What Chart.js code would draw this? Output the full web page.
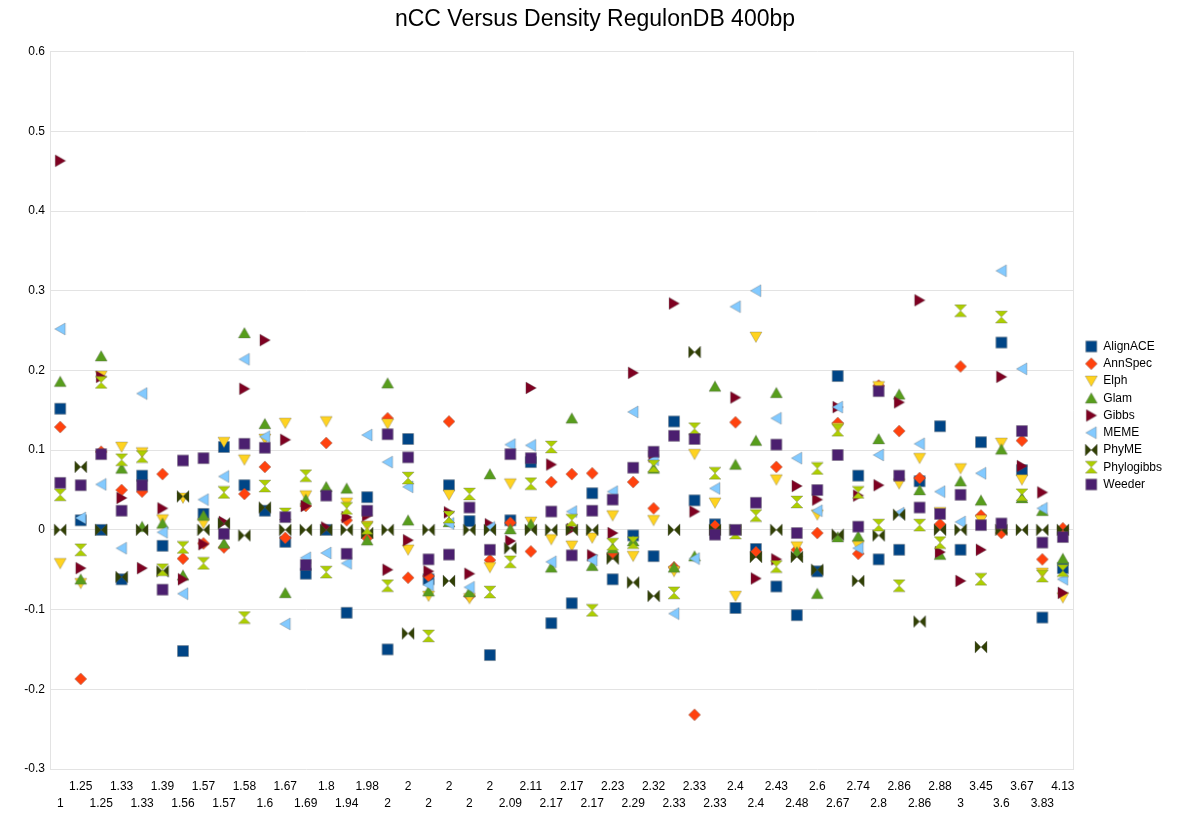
<!DOCTYPE html>
<html>
<head>
<meta charset="utf-8">
<script src="https://cdn.jsdelivr.net/npm/chart.js@4.4.1/dist/chart.umd.min.js"></script>
<style>
  html, body { margin: 0; background: #fff; }
  #wrap { width: 1200px; height: 819px; }
</style>
</head>
<body>
<div id="wrap"><canvas id="chart"></canvas></div>
<script>
// density categories (x axis, in file order)
const densities = ['1','1.25','1.25','1.33','1.33','1.39','1.56','1.57','1.57','1.58',
  '1.6','1.67','1.69','1.8','1.94','1.98','2','2','2','2',
  '2','2','2.09','2.11','2.17','2.17','2.17','2.23','2.29','2.32',
  '2.33','2.33','2.33','2.4','2.4','2.43','2.48','2.6','2.67','2.74',
  '2.8','2.86','2.86','2.88','3','3.45','3.6','3.67','3.83','4.13'];

// nCC per tool
const alignACE = [0.152,0.012,0,-0.062,0.068,-0.02,-0.152,0.02,0.104,0.056,0.024,-0.015,-0.055,0,-0.104,0.041,-0.15,0.114,-0.062,0.056,0.011,-0.157,0.012,0.085,-0.117,-0.092,0.046,-0.062,-0.007,-0.033,0.136,0.037,0.007,-0.098,-0.024,-0.071,-0.107,-0.052,0.193,0.068,-0.037,-0.025,0.061,0.13,-0.025,0.11,0.235,0.075,-0.11,-0.048];
const annSpec = [0.129,-0.187,0.098,0.05,0.048,0.07,-0.036,-0.017,-0.022,0.045,0.079,-0.01,0.03,0.109,0.012,-0.01,0.14,-0.06,-0.058,0.136,-0.083,-0.038,0.009,-0.027,0.06,0.07,0.071,-0.03,0.06,0.027,-0.047,-0.232,0.005,0.135,-0.028,0.079,-0.025,-0.004,0.134,-0.03,0.181,0.124,0.065,0.007,0.205,0.018,-0.004,0.112,-0.037,0.002];
const elph = [-0.042,-0.067,0.193,0.104,0.097,0.013,0.04,0.008,0.11,0.088,0.114,0.134,0.043,0.136,0.034,0.005,0.133,-0.025,-0.083,0.044,-0.086,-0.047,0.058,0.01,-0.012,-0.02,-0.01,0.018,-0.033,0.012,-0.052,0.095,0.034,-0.083,0.242,0.063,-0.021,0.019,0.128,-0.02,0.18,0.058,0.09,0.022,0.077,0.012,0.109,0.063,-0.054,-0.085];
const glam = [0.186,-0.062,0.218,0.077,0.004,0.008,-0.057,0.018,-0.017,0.247,0.133,-0.079,0.038,0.054,0.052,-0.013,0.184,0.012,-0.077,0.01,-0.078,0.07,0.001,0.007,-0.047,0.14,-0.045,-0.023,-0.014,0.077,-0.047,-0.033,0.18,0.082,0.112,0.172,-0.028,-0.08,-0.009,-0.008,0.114,0.17,0.05,-0.031,0.061,0.037,0.101,0.04,0.024,-0.036];
const gibbs = [0.463,-0.048,0.192,0.04,-0.048,0.027,-0.062,-0.018,0.01,0.177,0.238,0.113,0.03,0.003,0.016,0.018,-0.05,-0.013,-0.052,0.022,-0.055,0.007,-0.014,0.178,0.082,0.001,-0.032,-0.004,0.197,0.092,0.284,0.023,-0.003,0.166,-0.061,-0.037,0.055,0.038,0.154,0.043,0.056,0.16,0.288,-0.028,-0.064,-0.025,0.192,0.08,0.047,-0.079];
const meme = [0.252,0.015,0.057,-0.023,0.171,-0.003,-0.08,0.038,0.067,0.214,0.117,-0.118,-0.035,-0.029,-0.042,0.119,0.085,0.054,-0.069,0.008,-0.072,0.003,0.107,0.106,-0.04,0.023,-0.038,0.048,0.148,0.088,-0.105,-0.036,0.052,0.28,0.3,0.14,0.09,0.024,0.154,-0.023,0.094,0.021,0.108,0.048,0.01,0.071,0.325,0.202,0.027,-0.062];
const phyME = [0,0.079,0,-0.059,0,-0.052,0.042,0,0.008,-0.007,0.028,0,0,0,0,-0.004,0,-0.13,0,-0.064,0,0,-0.023,0,0,0,0,-0.036,-0.066,-0.083,0,0.223,0,0,-0.034,0,-0.034,-0.05,-0.006,-0.064,-0.007,0.019,-0.115,0,0,-0.147,0,0,0,0];
const phylogibbs = [0.044,-0.025,0.185,0.088,0.092,-0.05,-0.022,-0.042,0.047,-0.11,0.055,0.02,0.068,-0.053,0.027,0.002,-0.07,0.065,-0.133,0.016,0.045,-0.078,-0.04,0.058,0.104,0.012,-0.101,-0.018,-0.016,0.08,-0.079,0.127,0.071,-0.004,0.018,-0.046,0.035,0.077,0.125,0.047,0.006,-0.07,0.006,-0.016,0.275,-0.062,0.267,0.044,-0.058,-0.051];
const weeder = [0.059,0.056,0.095,0.024,0.056,-0.075,0.087,0.09,-0.005,0.108,0.103,0.016,-0.044,0.043,-0.03,0.024,0.12,0.091,-0.037,-0.031,0.028,-0.025,0.095,0.09,0.023,-0.032,0.024,0.038,0.078,0.098,0.118,0.114,-0.006,0,0.034,0.107,-0.004,0.05,0.094,0.004,0.174,0.068,0.028,0.02,0.044,0.006,0.008,0.124,-0.016,-0.009];

const yTicks = [-0.3, -0.2, -0.1, 0, 0.1, 0.2, 0.3, 0.4, 0.5, 0.6];

const FONT = '"Liberation Sans", Arial, sans-serif';

// little canvas symbols, like the office-suite markers
function marker(kind, color) {
  const c = document.createElement('canvas');
  c.width = 14; c.height = 14;
  const g = c.getContext('2d');
  g.fillStyle = color;
  g.strokeStyle = 'rgba(90,90,90,0.4)';
  g.lineWidth = 0.8;
  const shapes = {
    square: [[[1.5,1.5],[12.5,1.5],[12.5,12.5],[1.5,12.5]]],
    diamond: [[[7,1],[13,7],[7,13],[1,7]]],
    down: [[[1,2],[13,2],[7,12.5]]],
    up: [[[7,1.5],[13,12],[1,12]]],
    right: [[[2,1],[12.5,7],[2,13]]],
    left: [[[12,1],[1.5,7],[12,13]]],
    bowtie: [[[1,1],[7,7],[1,13]], [[13,1],[7,7],[13,13]]],
    hourglass: [[[1,1],[13,1],[7,7]], [[7,7],[13,13],[1,13]]]
  };
  shapes[kind].forEach(poly => {
    g.beginPath();
    poly.forEach(([x, y], i) => i ? g.lineTo(x, y) : g.moveTo(x, y));
    g.closePath();
    g.fill();
    g.stroke();
  });
  return c;
}

const series = [
  ['AlignACE', alignACE, '#004586', 'square'],
  ['AnnSpec', annSpec, '#ff420e', 'diamond'],
  ['Elph', elph, '#ffd320', 'down'],
  ['Glam', glam, '#579d1c', 'up'],
  ['Gibbs', gibbs, '#7e0021', 'right'],
  ['MEME', meme, '#83caff', 'left'],
  ['PhyME', phyME, '#314004', 'bowtie'],
  ['Phylogibbs', phylogibbs, '#aecf00', 'hourglass'],
  ['Weeder', weeder, '#4b1f6f', 'square']
];

const datasets = series.map(([name, values, color, kind], i) => {
  const img = marker(kind, color);
  return {
    label: name,
    data: values,
    showLine: false,
    pointStyle: img,
    pointRadius: 6,
    pointHoverRadius: 6,
    backgroundColor: color,
    borderColor: color,
    order: series.length - i   // later series drawn on top
  };
});

const baseLabels = Chart.defaults.plugins.legend.labels.generateLabels;

new Chart(document.getElementById('chart'), {
  type: 'line',
  data: { labels: densities, datasets: datasets },
  options: {
    responsive: true,
    maintainAspectRatio: false,
    animation: false,
    layout: { padding: { left: 0, right: 10, top: 0, bottom: 0 } },
    plugins: {
      title: {
        display: true,
        text: 'nCC Versus Density RegulonDB 400bp',
        color: '#000',
        font: { family: FONT, size: 23, weight: 'normal' },
        padding: { top: 6, bottom: 18 }
      },
      legend: {
        position: 'right',
        title: { display: true, text: ' ', font: { size: 6 }, padding: 2.4 },
        labels: {
          usePointStyle: true,
          color: '#000',
          font: { family: FONT, size: 12 },
          padding: 5.25,
          // trailing space keeps the legend column as wide as the original
          generateLabels: chart => baseLabels(chart).map(it => Object.assign(it, { text: it.text + '\u2002\u2002\u2002' })),
          sort: (a, b) => a.datasetIndex - b.datasetIndex
        }
      },
      tooltip: { enabled: false }
    },
    scales: {
      x: {
        type: 'category',
        offset: true,
        grid: { display: false, drawTicks: false },
        border: { display: false },
        ticks: {
          autoSkip: false,
          maxRotation: 0,
          minRotation: 0,
          padding: 10,
          color: '#000',
          font: { family: FONT, size: 12, lineHeight: 1.35 },
          callback: function (value, index) {
            const l = this.getLabelForValue(value);
            return index % 2 ? [l] : ['', l];
          }
        },
        afterFit: s => { s.height = 50; }
      },
      y: {
        min: -0.3,
        max: 0.6,
        afterBuildTicks: s => { s.ticks = yTicks.map(v => ({ value: v })); },
        grid: { color: '#e3e3e3', drawTicks: false },
        border: { color: '#e3e3e3' },
        ticks: {
          padding: 5,
          color: '#000',
          font: { family: FONT, size: 12 },
          callback: v => String(Math.round(v * 10) / 10)
        },
        afterFit: s => { s.width = 50; }
      },
      y2: {
        position: 'right',
        min: -0.3,
        max: 0.6,
        grid: { drawOnChartArea: false, drawTicks: false },
        border: { color: '#e3e3e3' },
        ticks: { display: false },
        afterFit: s => { s.width = 7; }
      }
    }
  }
});
</script>
</body>
</html>
